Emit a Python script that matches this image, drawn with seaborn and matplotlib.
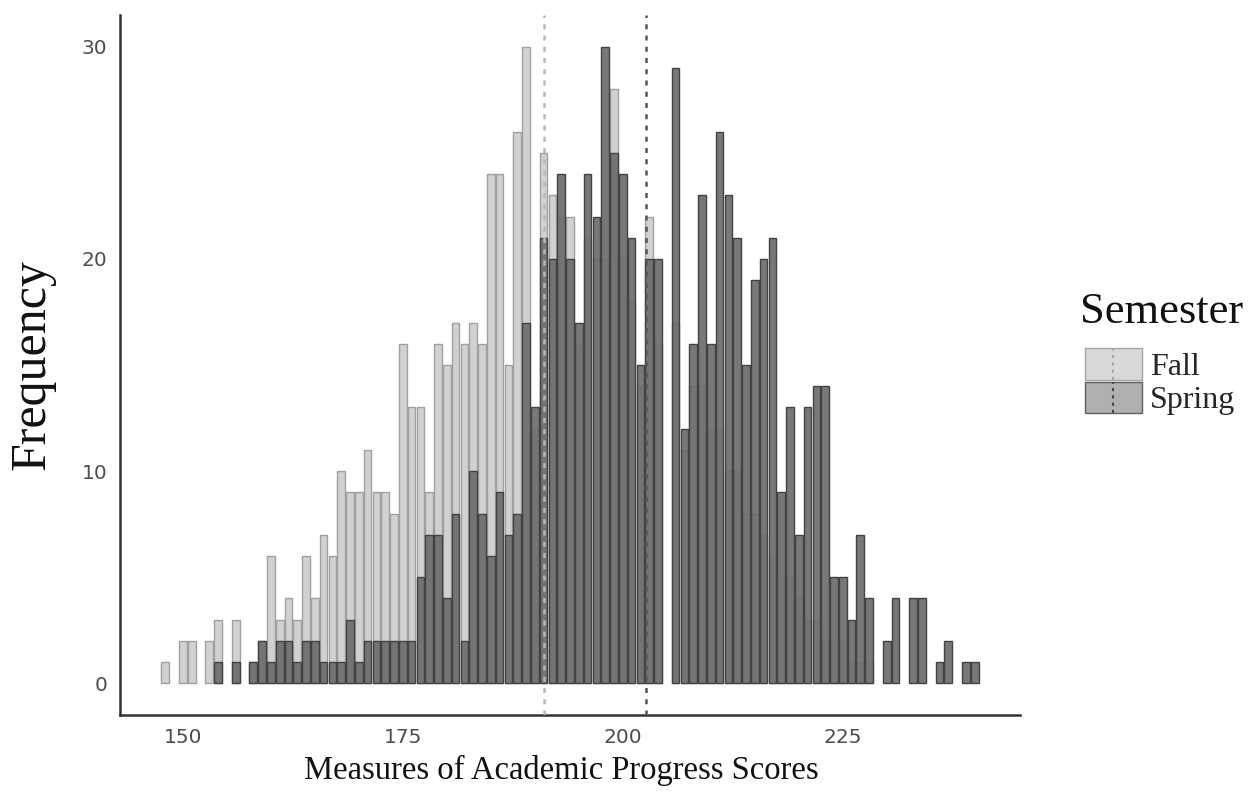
import numpy as np
import pandas as pd
import matplotlib
matplotlib.use("Agg")
import matplotlib.pyplot as plt
import seaborn as sns
from matplotlib.patches import Patch
from matplotlib.lines import Line2D
from matplotlib.colors import to_rgba

# ---------------- data ----------------
scores = list(range(148, 241))  # integer MAP scores, one bin each

fall_counts = [
    1, 0, 2, 2, 0, 2, 3, 0, 3, 0,          # 148-157
    1, 2, 6, 3, 4, 3, 6, 4, 7, 6,          # 158-167
    10, 9, 9, 11, 9, 9, 8, 16, 13, 13,     # 168-177
    9, 16, 15, 17, 16, 17, 16, 24, 24, 15, # 178-187
    26, 30, 12, 25, 23, 22, 22, 16, 21, 20,# 188-197
    20, 28, 20, 18, 14, 22, 16, 0, 17, 11, # 198-207
    14, 14, 12, 12, 10, 10, 8, 8, 7, 6,    # 208-217
    5, 5, 4, 3, 3, 2, 2, 2, 1, 1,          # 218-227
    1, 0, 0, 0, 0, 0, 0, 0, 0, 0,          # 228-237
    0, 0, 0,                               # 238-240
]

spring_counts = [
    0, 0, 0, 0, 0, 0, 1, 0, 1, 0,          # 148-157
    1, 2, 1, 2, 2, 1, 2, 2, 1, 1,          # 158-167
    1, 3, 1, 2, 2, 2, 2, 2, 2, 5,          # 168-177
    7, 7, 4, 8, 2, 10, 8, 6, 9, 7,         # 178-187
    8, 17, 13, 21, 20, 24, 20, 17, 24, 22, # 188-197
    30, 25, 24, 21, 15, 20, 20, 0, 29, 12, # 198-207
    16, 23, 16, 26, 23, 21, 15, 19, 20, 21,# 208-217
    9, 13, 7, 13, 14, 14, 5, 5, 3, 7,      # 218-227
    4, 0, 2, 4, 0, 4, 4, 0, 1, 2,          # 228-237
    0, 1, 1,                               # 238-240
]

semesters = ["Fall", "Spring"]
fall_mean = 191.0
spring_mean = 202.6
x_ticks = [150, 175, 200, 225]
y_ticks = [0, 10, 20, 30]

# ---------------- styling ----------------
sns.set_style("white")
plt.rcParams["font.family"] = ["DejaVu Sans"]
serif = "Liberation Serif"

fall_face = to_rgba("#c6c6c6", 0.8)
spring_face = to_rgba("#6c6c6c", 0.92)
fall_edge = "#a0a0a0"
spring_edge = "#424242"

df = pd.DataFrame({
    "score": scores * 2,
    "count": fall_counts + spring_counts,
    "Semester": ["Fall"] * len(scores) + ["Spring"] * len(scores),
})
brange = (min(scores) - 0.5, max(scores) + 0.5)

W, H = 1250, 792
fig = plt.figure(figsize=(W / 100, H / 100), dpi=100)
ax = fig.add_axes([0.096, 0.0972, 0.72, 0.8838])

sns.histplot(data=df[df["Semester"] == "Fall"], x="score", weights="count",
             binwidth=1, binrange=brange, shrink=0.87, facecolor=fall_face,
             edgecolor=fall_edge, linewidth=1.0, ax=ax, legend=False, zorder=1)
sns.histplot(data=df[df["Semester"] == "Spring"], x="score", weights="count",
             binwidth=1, binrange=brange, shrink=0.87, facecolor=spring_face,
             edgecolor=spring_edge, linewidth=1.0, ax=ax, legend=False, zorder=2)

# empty bins leave no outline at the baseline
for p in ax.patches:
    if p.get_height() == 0:
        p.set_visible(False)

ax.axvline(fall_mean, color="#b8b8b8", linestyle=(0, (2, 2.5)), linewidth=1.8, zorder=3)
ax.axvline(spring_mean, color="#555555", linestyle=(0, (2, 2.5)), linewidth=1.8, zorder=3)

ax.set_xlim(142.85, 245.15)
ax.set_ylim(-1.5, 31.5)
ax.set_xticks(x_ticks)
ax.set_yticks(y_ticks)
ax.tick_params(axis="both", labelsize=14.5, labelcolor="#4d4d4d", color="#333333",
               length=5, width=1.2, pad=4, direction="out")

for s in ["top", "right"]:
    ax.spines[s].set_visible(False)
for s in ["left", "bottom"]:
    ax.spines[s].set_linewidth(1.8)
    ax.spines[s].set_color("#333333")

ax.set_xlabel("Measures of Academic Progress Scores", family=serif, fontsize=23.5, color="#111111")
ax.set_ylabel("Frequency", family=serif, fontsize=36, color="#111111")
ax.xaxis.set_label_coords(0.49, -0.057)
ax.yaxis.set_label_coords(-0.072, 0.5)

# legend: title as text, keys below it
fig.text(1080 / W, 1 - 323 / H, "Semester", family=serif, fontsize=32,
         color="#111111", ha="left", va="baseline")
handles = [
    Patch(facecolor="#d9d9d9", edgecolor="#a5a5a5", linewidth=1.0),
    Patch(facecolor="#b0b0b0", edgecolor="#606060", linewidth=1.0),
]
leg = fig.legend(handles=handles, labels=semesters, loc="upper left",
                 bbox_to_anchor=(1085 / W, 1 - 348 / H), frameon=False,
                 prop={"family": serif, "size": 23},
                 handlelength=1.78, handleheight=1.15, handletextpad=0.25,
                 labelspacing=0.0, borderaxespad=0, borderpad=0)

# dashed mean-line glyph through the middle of each legend key
fig.canvas.draw()
renderer = fig.canvas.get_renderer()
for p, col in zip(leg.get_patches(), ["#a8a8a8", "#444444"]):
    bb = p.get_window_extent(renderer)
    xm = (bb.x0 + bb.x1) / 2 / W
    fig.add_artist(Line2D([xm, xm], [bb.y0 / H, bb.y1 / H], transform=fig.transFigure,
                          color=col, linestyle=(0, (1.5, 2)), linewidth=1.5, zorder=20))

fig.savefig("out.png", dpi=100, facecolor="white")
